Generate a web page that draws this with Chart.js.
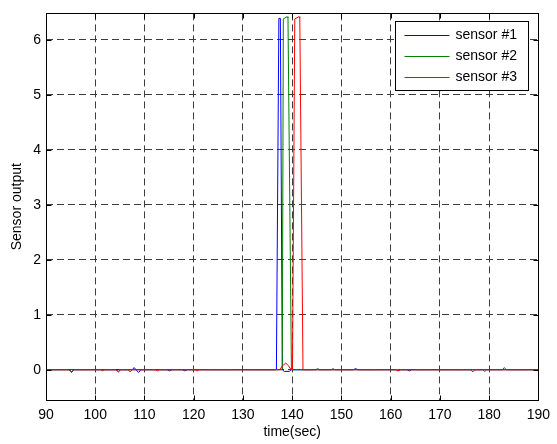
<!DOCTYPE html>
<html>
<head>
<meta charset="utf-8">
<script src="https://cdn.jsdelivr.net/npm/chart.js@4/dist/chart.umd.min.js"></script>
<style>
  html, body { margin: 0; padding: 0; background: #fff; }
  #wrap { width: 557px; height: 444px; position: relative; }
</style>
</head>
<body>
<div id="wrap"><canvas id="sensorChart"></canvas></div>
<script>
// axis ticks
const xTicks = [90, 100, 110, 120, 130, 140, 150, 160, 170, 180, 190];
const yTicks = [0, 1, 2, 3, 4, 5, 6];

const seriesNames = ['sensor #1', 'sensor #2', 'sensor #3'];
const seriesColors = ['#0000ff', '#008000', '#ff0000'];

// sensor #1 (blue)
const s1Time  = [90, 94.6, 95.2, 95.8, 107.5, 107.9, 108.3, 108.8, 109.3, 114.6, 115.1, 115.6, 117.7, 118.2, 118.7, 136.8, 137.3, 137.6, 138.0, 138.4, 139.4, 139.8, 152.4, 152.9, 153.4, 161.0, 161.5, 162.0, 163.3, 163.8, 164.3, 190];
const s1Value = [0, 0, -0.03, 0, 0, 0.04, 0, -0.05, 0, 0, -0.02, 0, 0, -0.02, 0, 0, 6.39, 6.39, 0, -0.03, -0.03, 0, 0, 0.02, 0, 0, -0.02, 0, 0, -0.02, 0, 0];

// sensor #2 (green)
const s2Time  = [90, 94.7, 95.2, 95.7, 104.2, 104.7, 105.2, 138.0, 138.2, 139.0, 139.15, 139.85, 144.8, 145.2, 145.6, 147.9, 148.3, 148.7, 178.7, 179.1, 179.5, 182.7, 183.1, 183.5, 190];
const s2Value = [0, 0, -0.04, 0, 0, -0.03, 0, 0, 6.38, 6.42, 6.40, 0, 0, 0.02, 0, 0, 0.02, 0, 0, -0.03, 0, 0, 0.04, 0, 0];

// sensor #3 (red)
const s3Time  = [90, 94.7, 95.2, 95.7, 101.1, 101.5, 101.9, 104.2, 104.7, 105.2, 106.7, 107.1, 107.5, 112.2, 112.6, 113.0, 120.3, 120.7, 121.1, 137.5, 138.0, 138.7, 139.3, 139.6, 140.06, 140.53, 141.4, 141.55, 142.2, 161.1, 161.5, 161.9, 176.3, 176.7, 177.1, 190];
const s3Value = [0, 0, -0.05, 0, 0, -0.02, 0, 0, -0.04, 0, 0, -0.04, 0, 0, -0.02, 0, 0, -0.02, 0, 0, 0.07, 0.12, 0.07, 0.02, 0, 6.38, 6.42, 6.40, 0, 0, -0.02, 0, 0, -0.04, 0, 0];

const seriesTimes = [s1Time, s2Time, s3Time];
const seriesValues = [s1Value, s2Value, s3Value];

const FONT = { family: '"Liberation Sans", Arial, sans-serif', size: 14 };

// frame round the plot, with MATLAB-style inward ticks
const frameTicks = {
  id: 'frameTicks',
  afterDraw(chart) {
    const { ctx, chartArea: a, scales } = chart;
    const l = Math.round(a.left) + 0.5, r = Math.round(a.right) + 0.5;
    const t = Math.round(a.top) + 0.5, b = Math.round(a.bottom) + 0.5;
    const len = 5;
    ctx.save();
    ctx.strokeStyle = '#000';
    ctx.lineWidth = 1;
    ctx.setLineDash([]);
    ctx.strokeRect(l, t, r - l, b - t);
    ctx.beginPath();
    xTicks.forEach(v => {
      const px = Math.round(scales.x.getPixelForValue(v)) + 0.5;
      ctx.moveTo(px, b); ctx.lineTo(px, b - len);
      ctx.moveTo(px, t); ctx.lineTo(px, t + len);
    });
    yTicks.forEach(v => {
      const py = Math.round(scales.y.getPixelForValue(v)) + 0.5;
      ctx.moveTo(l, py); ctx.lineTo(l + len, py);
      ctx.moveTo(r, py); ctx.lineTo(r - len, py);
    });
    ctx.stroke();
    ctx.restore();
  }
};

// boxed legend inside the top right corner
const legendBox = {
  id: 'legendBox',
  afterDraw(chart) {
    const { ctx, chartArea: a } = chart;
    const x0 = Math.round(a.right) - 143 + 0.5, y0 = Math.round(a.top) + 8 + 0.5;
    const w = 133, h = 69;
    ctx.save();
    ctx.fillStyle = '#fff';
    ctx.fillRect(x0, y0, w, h);
    ctx.strokeStyle = '#000';
    ctx.lineWidth = 1;
    ctx.strokeRect(x0, y0, w, h);
    ctx.font = FONT.size + 'px ' + FONT.family;
    ctx.textBaseline = 'middle';
    ctx.textAlign = 'left';
    seriesNames.forEach((name, i) => {
      const yy = Math.round(y0 + 13.5 + i * 21) + 0.5;
      ctx.strokeStyle = seriesColors[i];
      ctx.beginPath();
      ctx.moveTo(x0 + 9, yy);
      ctx.lineTo(x0 + 54, yy);
      ctx.stroke();
      ctx.fillStyle = '#000';
      ctx.fillText(name, x0 + 60, yy);
    });
    ctx.restore();
  }
};

new Chart(document.getElementById('sensorChart'), {
  type: 'line',
  data: {
    datasets: seriesNames.map((name, i) => ({
      label: name,
      data: seriesTimes[i].map((t, j) => ({ x: t, y: seriesValues[i][j] })),
      borderColor: seriesColors[i],
      backgroundColor: seriesColors[i],
      borderWidth: 1,
      pointRadius: 0,
      tension: 0,
      fill: false,
      order: 3 - i
    }))
  },
  options: {
    responsive: true,
    maintainAspectRatio: false,
    animation: false,
    devicePixelRatio: 1,
    layout: { padding: { top: 11, right: 15, left: 0, bottom: 0 } },
    plugins: { legend: { display: false }, tooltip: { enabled: false } },
    scales: {
      x: {
        type: 'linear',
        min: 90,
        max: 190,
        afterBuildTicks: s => { s.ticks = xTicks.map(v => ({ value: v })); },
        afterFit: s => { s.height = 44; },
        ticks: { font: FONT, color: '#000', padding: 7, maxRotation: 0, autoSkip: false },
        grid: { color: '#3c3c3c', lineWidth: 1, drawTicks: false },
        border: { display: false, dash: [7, 4] },
        title: { display: true, text: 'time(sec)', font: FONT, color: '#000', padding: { top: 0, bottom: 3 } }
      },
      y: {
        type: 'linear',
        min: -0.55,
        max: 6.48,
        afterBuildTicks: s => { s.ticks = yTicks.map(v => ({ value: v })); },
        afterFit: s => { s.width = 46; },
        ticks: { font: FONT, color: '#000', padding: 5 },
        grid: { color: '#3c3c3c', lineWidth: 1, drawTicks: false },
        border: { display: false, dash: [7, 4] },
        title: { display: true, text: 'Sensor output', font: FONT, color: '#000', padding: { top: 9, bottom: 0 } }
      }
    }
  },
  plugins: [frameTicks, legendBox]
});
</script>
</body>
</html>
